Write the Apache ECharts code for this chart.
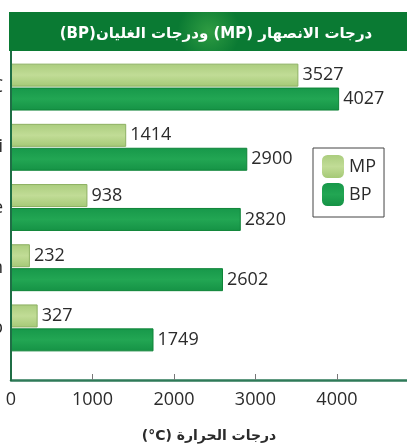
<!DOCTYPE html>
<html>
<head>
<meta charset="utf-8">
<script src="https://cdn.jsdelivr.net/npm/echarts@6/dist/echarts.min.js"></script>
<style>
  html, body { margin: 0; padding: 0; background: #ffffff; }
  #chart { width: 407px; height: 448px; }
</style>
</head>
<body>
<div id="chart"></div>
<script>
// Elements and their melting / boiling points (°C)
const elements = ['C', 'Si', 'Ge', 'Sn', 'Pb'];
const meltingPoints = [3527, 1414, 938, 232, 327];
const boilingPoints = [4027, 2900, 2820, 2602, 1749];
const seriesNames = ['MP', 'BP'];
const xTicks = [0, 1000, 2000, 3000, 4000];
const titleText = 'درجات الانصهار (MP) ودرجات الغليان(BP)';
const axisTitle = 'درجات الحرارة (°C)';

// Right-to-left embedding for the Arabic strings; bracketed Latin runs
// such as "(MP)" or "(°C)" are isolated so they keep left-to-right order.
const rtl = s => '\u202B' + s.replace(/\([^)]*\)/g, m => '\u2066' + m + '\u2069') + '\u202C';

const FONT = '"Open Sans", "DejaVu Sans", sans-serif';
const AR_FONT = '"DejaVu Sans", sans-serif';

const chart = echarts.init(document.getElementById('chart'), null, { renderer: 'canvas' });

const mpColor = new echarts.graphic.LinearGradient(0, 0, 0, 1, [
  { offset: 0, color: '#abcd7e' },
  { offset: 0.5, color: '#c1dc96' },
  { offset: 1, color: '#a5c976' }
]);
const bpColor = new echarts.graphic.LinearGradient(0, 0, 0, 1, [
  { offset: 0, color: '#17984a' },
  { offset: 0.5, color: '#22a653' },
  { offset: 1, color: '#159245' }
]);

const barLabel = {
  show: true,
  position: 'right',
  distance: 4,
  color: '#2b2b2b',
  fontSize: 18,
  fontFamily: FONT
};

chart.setOption({
  animation: false,
  backgroundColor: '#ffffff',
  title: {
    text: rtl(titleText),
    left: 211,
    top: 22,
    textAlign: 'center',
    textStyle: { color: '#ffffff', fontSize: 15, fontWeight: 'bold', fontFamily: AR_FONT }
  },
  graphic: [
    {
      type: 'rect', z: -1,
      shape: { x: 9, y: 12, width: 400, height: 39 },
      style: {
        fill: new echarts.graphic.RadialGradient(0.5, 0.5, 0.8, [
          { offset: 0, color: '#2f9c42' },
          { offset: 1, color: '#0a7a33' }
        ])
      }
    },
    {
      type: 'line', z: 100,
      shape: { x1: 11, y1: 51, x2: 11, y2: 381 },
      style: { stroke: '#1f6e45', lineWidth: 2 }
    }
  ],
  legend: {
    data: seriesNames,
    orient: 'vertical',
    left: 313,
    top: 148,
    padding: [7, 8, 11, 9],
    itemWidth: 22,
    itemHeight: 23,
    itemGap: 5,
    itemTextGap: 8,
    borderColor: '#444444',
    borderWidth: 1,
    backgroundColor: '#ffffff',
    textStyle: { color: '#2b2b2b', fontSize: 18, fontFamily: FONT },
    itemStyle: { borderWidth: 0 }
  },
  grid: { left: 11, right: 0, top: 57, height: 301, containLabel: false, outerBoundsMode: 'none' },
  xAxis: {
    type: 'value',
    min: xTicks[0],
    max: 4860,
    interval: xTicks[1] - xTicks[0],
    offset: 22,
    axisLine: { show: true, lineStyle: { color: '#2e7a58', width: 2.5 } },
    axisTick: { show: true, inside: true, length: 6, lineStyle: { color: '#777777' } },
    splitLine: { show: false },
    axisLabel: {
      showMaxLabel: false,
      margin: 11,
      color: '#2b2b2b',
      fontSize: 18,
      fontFamily: FONT,
      formatter: v => (xTicks.includes(v) ? String(v) : '')
    },
    name: rtl(axisTitle),
    nameLocation: 'middle',
    nameGap: 49,
    nameTextStyle: { color: '#2b2b2b', fontSize: 14, fontWeight: 'bold', fontFamily: AR_FONT }
  },
  yAxis: {
    type: 'category',
    data: elements,
    inverse: true,
    axisLine: { show: false },
    axisTick: { show: false },
    axisLabel: { margin: 8, color: '#2b2b2b', fontSize: 18, fontFamily: FONT }
  },
  series: [
    {
      name: seriesNames[0],
      type: 'bar',
      data: meltingPoints,
      barWidth: 23,
      barGap: '4%',
      itemStyle: { color: mpColor, borderColor: '#8db062', borderWidth: 1 },
      label: barLabel
    },
    {
      name: seriesNames[1],
      type: 'bar',
      data: boilingPoints,
      barWidth: 23,
      itemStyle: { color: bpColor, borderColor: '#0f8438', borderWidth: 1 },
      label: barLabel
    }
  ]
});
</script>
</body>
</html>
